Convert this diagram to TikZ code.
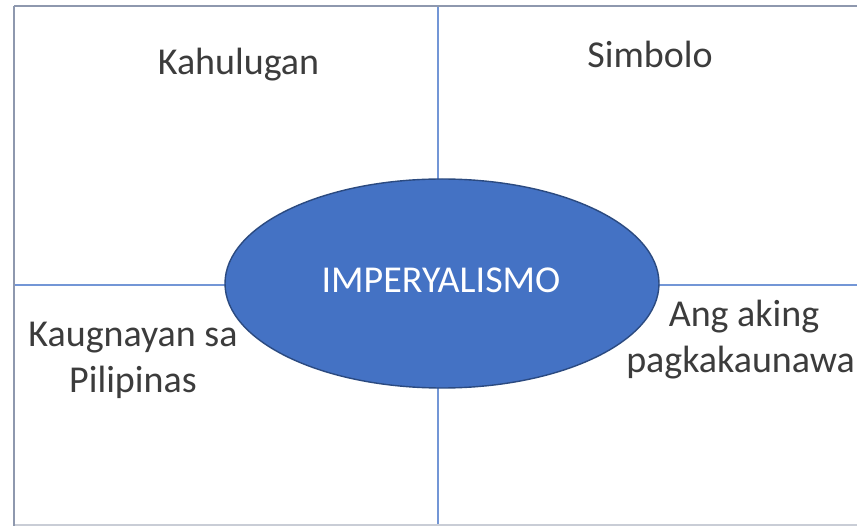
\documentclass[tikz,border=0pt]{standalone}
\usepackage{fontspec}
\setmainfont{Carlito}
\usetikzlibrary{shapes.geometric}
\definecolor{framecol}{HTML}{8E98AE}
\definecolor{bottomcol}{HTML}{C9CDD6}
\definecolor{gridcol}{HTML}{7396D6}
\definecolor{ellfill}{HTML}{4472C4}
\definecolor{elldraw}{HTML}{2B4A80}
\definecolor{txtcol}{HTML}{3C3C3C}
\tikzset{
  framebar/.style={draw=framecol, line width=2.6pt},
  gridline/.style={draw=gridcol, line width=1.4pt},
  lbl/.style={text=txtcol, font=\fontsize{38}{46}\selectfont, inner sep=0pt, align=center},
  bubble/.style={ellipse, draw=elldraw, line width=1.4pt, fill=ellfill, minimum width=434pt, minimum height=209pt, inner sep=0pt}
}
\begin{document}
\begin{tikzpicture}[x=1pt,y=-1pt]
\useasboundingbox[fill=white] (0,0) rectangle (857,526);
% named points
\coordinate (tl) at (14,6);
\coordinate (tr) at (860,6);
\coordinate (bl) at (14,526);
\coordinate (vt) at (438,6);
\coordinate (vb) at (438,530);
\coordinate (hl) at (14,285);
\coordinate (hr) at (860,285);
% grid lines
\draw[gridline] (vt) -- (vb);
\draw[gridline] (hl) -- (hr);
% frame
\draw[draw=bottomcol, line width=1.2pt] (14,525) -- (860,525);
\draw[framebar] (tl) -- (tr);
\draw[framebar] (tl) -- (bl);
% ellipse
\node[bubble] (e) at (442,283.5) {};
\node[anchor=base, text=white, font=\fontsize{38}{46}\selectfont, inner sep=0pt] (t) at (441,293) {IMPERYALISMO};
% labels
\node[lbl, anchor=base] (k) at (238.5,75) {Kahulugan};
\node[lbl, anchor=base] (s) at (650,68) {Simbolo};
\node[lbl, anchor=base] (k1) at (133,347) {Kaugnayan sa};
\node[lbl, anchor=base] (k2) at (133,393) {Pilipinas};
\node[lbl, anchor=base] (a1) at (744,327) {Ang aking};
\node[lbl, anchor=base east] (a2) at (855,373) {pagkakaunawa};
\end{tikzpicture}
\end{document}
